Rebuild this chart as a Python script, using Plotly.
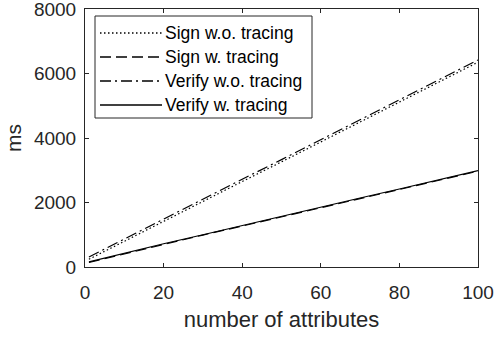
import plotly.graph_objects as go

# ---- data ----
attributes = [1, 10, 20, 30, 40, 50, 60, 70, 80, 90, 100]
sign_wo_tracing = [240, 800, 1420, 2030, 2650, 3260, 3880, 4490, 5110, 5730, 6350]
sign_w_tracing = [140, 410, 700, 990, 1270, 1550, 1840, 2120, 2400, 2690, 2970]
verify_wo_tracing = [310, 870, 1490, 2100, 2720, 3330, 3950, 4560, 5180, 5800, 6420]
verify_w_tracing = [160, 430, 720, 1000, 1290, 1570, 1850, 2140, 2420, 2700, 2990]

series_names = ["Sign w.o. tracing", "Sign w. tracing", "Verify w.o. tracing", "Verify w. tracing"]
series_values = [sign_wo_tracing, sign_w_tracing, verify_wo_tracing, verify_w_tracing]
series_dash = ["1.5px,2.5px", "11px,5px", "11px,4px,2px,4px", "solid"]

x_ticks = [0, 20, 40, 60, 80, 100]
y_ticks = [0, 2000, 4000, 6000, 8000]

# ---- layout geometry (pixels) ----
W, H = 495, 338
L, R, T, B = 85, 17, 9, 71
PW, PH = W - L - R, H - T - B
AXC = "#262626"
FONT = "Liberation Sans, Arial, sans-serif"


def px_x(p):
    return (p - L) / PW


def px_y(p):
    return (H - B - p) / PH


fig = go.Figure()
for name, vals, dash in zip(series_names, series_values, series_dash):
    fig.add_trace(go.Scatter(
        x=attributes, y=vals, mode="lines", name=name,
        line=dict(color="black", width=1.2, dash=dash),
        showlegend=False,
    ))

axis_common = dict(
    showline=True, linecolor=AXC, linewidth=1, mirror="ticks",
    ticks="inside", ticklen=4, tickcolor=AXC, tickwidth=1,
    showgrid=False, zeroline=False, automargin=False,
    ticklabeloverflow="allow",
    tickfont=dict(family=FONT, size=19, color=AXC),
)

fig.update_xaxes(
    range=[0, 100], tickvals=x_ticks, ticktext=[str(v) for v in x_ticks],
    title=dict(text="number of attributes", font=dict(family=FONT, size=22, color=AXC), standoff=9),
    ticklabelstandoff=8,
    **axis_common,
)
fig.update_yaxes(
    range=[0, 8000], tickvals=y_ticks, ticktext=[str(v) for v in y_ticks],
    title=dict(text="ms", font=dict(family=FONT, size=21, color=AXC), standoff=6),
    ticklabelstandoff=4,
    **axis_common,
)

# ---- legend drawn manually (MATLAB style, long line samples) ----
shapes = [dict(
    type="rect", xref="paper", yref="paper",
    x0=px_x(95), x1=px_x(312), y0=px_y(118), y1=px_y(16),
    line=dict(color=AXC, width=1), fillcolor="white", layer="above",
)]
annotations = []
row_y = [33, 57, 81, 105]
for name, dash, ry in zip(series_names, series_dash, row_y):
    shapes.append(dict(
        type="line", xref="paper", yref="paper",
        x0=px_x(100), x1=px_x(162), y0=px_y(ry), y1=px_y(ry),
        line=dict(color="black", width=1.3, dash=dash), layer="above",
    ))
    annotations.append(dict(
        xref="paper", yref="paper", x=px_x(163), y=px_y(ry),
        xanchor="left", yanchor="middle", text=name, showarrow=False,
        font=dict(family=FONT, size=17.5, color="black"),
    ))

fig.update_layout(
    width=W, height=H,
    margin=dict(l=L, r=R, t=T, b=B),
    paper_bgcolor="white", plot_bgcolor="white",
    shapes=shapes, annotations=annotations,
    showlegend=False,
)

fig.write_html(
    "out.html",
    config={"displayModeBar": False},
    post_script="document.body.style.margin='0';document.body.style.overflow='hidden';",
)
